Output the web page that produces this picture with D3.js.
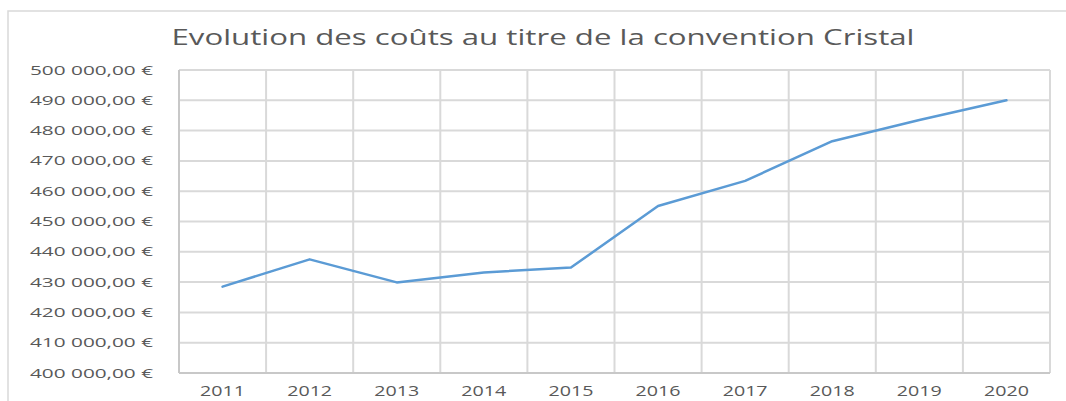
<!DOCTYPE html>
<html>
<head>
<meta charset="utf-8">
<script src="https://cdn.jsdelivr.net/npm/d3@7"></script>
<style>
  html, body { margin: 0; padding: 0; background: #fff; }
  svg { display: block; }
</style>
</head>
<body>
<svg id="chart" width="1066" height="401"></svg>
<script>
const years = ["2011","2012","2013","2014","2015","2016","2017","2018","2019","2020"];
const costs = [428500, 437500, 429900, 433200, 434800, 455100, 463400, 476500, 483500, 490000];
const yTicks = [400000,410000,420000,430000,440000,450000,460000,470000,480000,490000,500000];
const title = "Evolution des coûts au titre de la convention Cristal";

const svg = d3.select("#chart");
const W = 1066, H = 401;
const plot = {left: 179, right: 1050, top: 70, bottom: 373};

// outer chart border
svg.append("rect")
  .attr("x", 8).attr("y", 11)
  .attr("width", W + 20).attr("height", H + 20)
  .attr("fill", "none").attr("stroke", "#D9D9D9").attr("stroke-width", 1.5);

const x = d3.scaleBand().domain(years).range([plot.left, plot.right]).padding(0);
const y = d3.scaleLinear().domain([400000, 500000]).range([plot.bottom, plot.top]);

const grid = "#D9D9D9";

// horizontal gridlines
svg.append("g").selectAll("line").data(yTicks).join("line")
  .attr("x1", plot.left).attr("x2", plot.right)
  .attr("y1", d => y(d)).attr("y2", d => y(d))
  .attr("stroke", grid).attr("stroke-width", 2);

// vertical gridlines at category boundaries
const bounds = years.map(d => x(d)).concat([plot.right]);
svg.append("g").selectAll("line").data(bounds).join("line")
  .attr("x1", d => d).attr("x2", d => d)
  .attr("y1", plot.top).attr("y2", plot.bottom)
  .attr("stroke", grid).attr("stroke-width", 2);

// axes baseline
svg.append("line")
  .attr("x1", plot.left).attr("x2", plot.right)
  .attr("y1", plot.bottom).attr("y2", plot.bottom)
  .attr("stroke", "#C8C8C8").attr("stroke-width", 2);
svg.append("line")
  .attr("x1", plot.left).attr("x2", plot.left)
  .attr("y1", plot.top).attr("y2", plot.bottom)
  .attr("stroke", "#C8C8C8").attr("stroke-width", 2);

// y tick labels
const fmt = v => d3.format(",")(v).replace(/,/g, " ") + ",00 €";
svg.append("g").selectAll("text").data(yTicks).join("text")
  .attr("x", 153).attr("y", d => y(d) + 4.5)
  .attr("text-anchor", "end")
  .attr("font-family", "Open Sans, sans-serif")
  .attr("font-size", 12)
  .attr("fill", "#595959")
  .attr("textLength", 123).attr("lengthAdjust", "spacingAndGlyphs")
  .text(d => fmt(d));

// x tick labels
svg.append("g").selectAll("text").data(years).join("text")
  .attr("x", d => x(d) + x.bandwidth() / 2).attr("y", 395.5)
  .attr("text-anchor", "middle")
  .attr("font-family", "Open Sans, sans-serif")
  .attr("font-size", 14)
  .attr("fill", "#595959")
  .attr("textLength", 45).attr("lengthAdjust", "spacingAndGlyphs")
  .text(d => d);

// line
const line = d3.line()
  .x((d, i) => x(years[i]) + x.bandwidth() / 2)
  .y(d => y(d));
svg.append("path")
  .datum(costs)
  .attr("d", line)
  .attr("fill", "none")
  .attr("stroke", "#5B9BD5")
  .attr("stroke-width", 2.5)
  .attr("stroke-linejoin", "round")
  .attr("stroke-linecap", "round");

// title
svg.append("text")
  .attr("x", 171.5).attr("y", 44.5)
  .attr("font-family", "Open Sans, sans-serif")
  .attr("font-size", 22)
  .attr("fill", "#595959")
  .attr("textLength", 743).attr("lengthAdjust", "spacingAndGlyphs")
  .text(title);
</script>
</body>
</html>
